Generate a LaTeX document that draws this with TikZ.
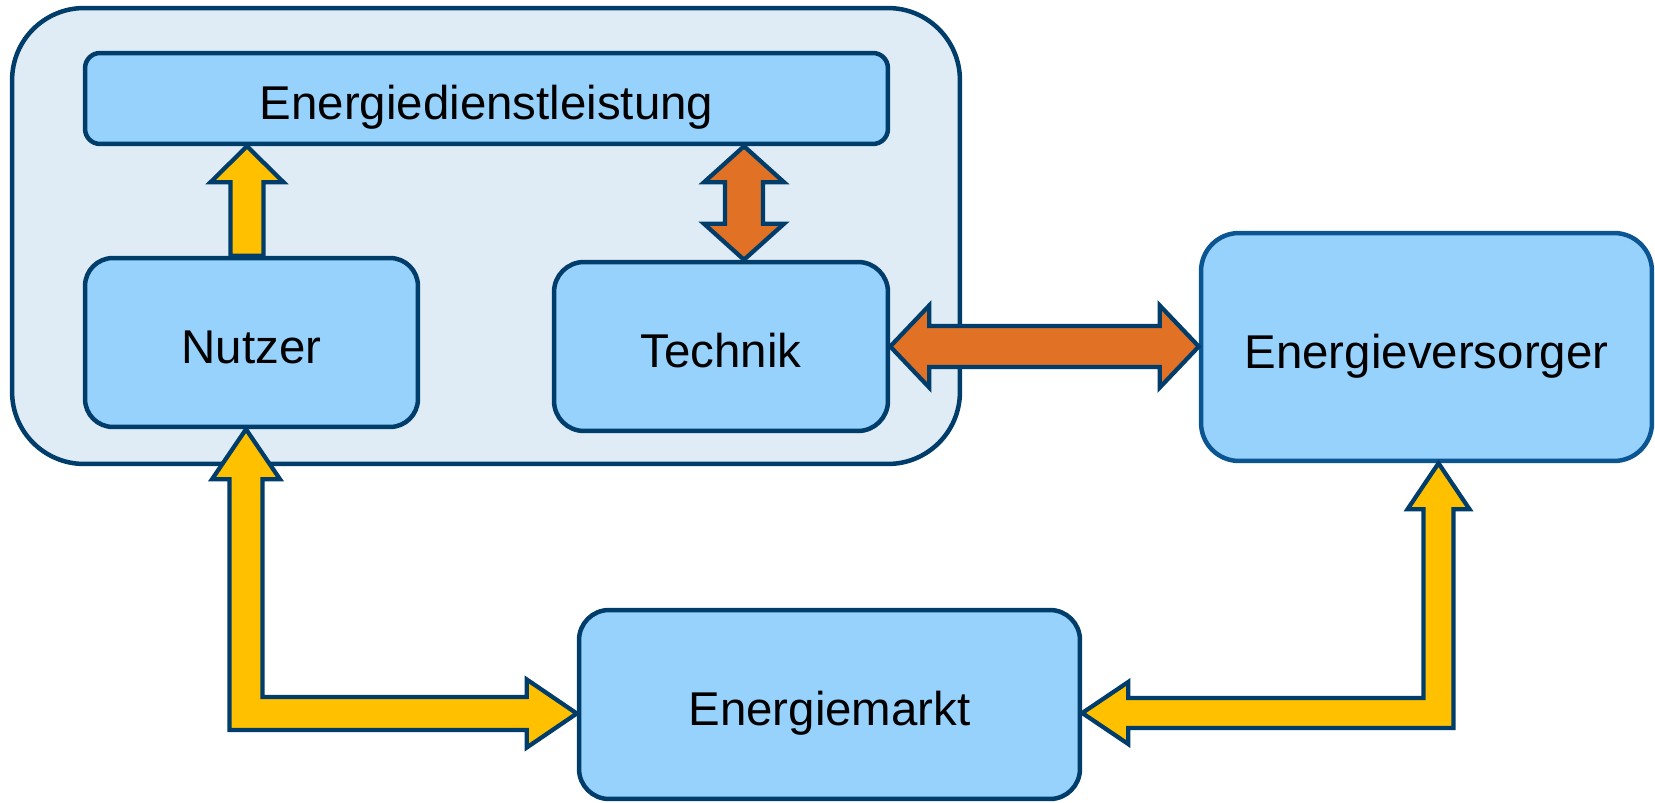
\documentclass[tikz,border=0pt]{standalone}
\usepackage{fontspec}
\setmainfont{Liberation Sans}
\usetikzlibrary{calc}
\definecolor{navy}{HTML}{003D6B}
\definecolor{navylight}{HTML}{0B5593}
\definecolor{boxblue}{HTML}{97D2FD}
\definecolor{paleblue}{HTML}{DFECF5}
\definecolor{amber}{HTML}{FFC000}
\definecolor{rust}{HTML}{E07125}
\tikzstyle{outerbox} = [rectangle, rounded corners=1.44cm, minimum width=18.96cm, minimum height=9.12cm, draw=navy, line width=0.09cm, fill=paleblue, inner sep=0pt]
\tikzstyle{block} = [rectangle, draw=navy, line width=0.09cm, fill=boxblue, inner sep=0pt, text centered, text height=0.85cm, text depth=0pt, font=\fontsize{27}{32}\selectfont]
\tikzstyle{fatyellow} = [draw=navy, line width=0.085cm, line join=miter, fill=amber]
\tikzstyle{fatorange} = [draw=navy, line width=0.085cm, line join=miter, fill=rust]

\begin{document}
\begin{tikzpicture}[x=0.02cm, y=-0.02cm]
\useasboundingbox (0,0) rectangle (1655,803);
\node (haushalt) [outerbox] at (486,236) {};
\node (dienst) [block, rounded corners=0.3cm, minimum width=16.06cm, minimum height=1.82cm] at (486.5,98.5) {Energiedienstleistung};
\node (nutzer) [block, rounded corners=0.56cm, minimum width=6.66cm, minimum height=3.38cm] at (251.5,342.5) {Nutzer};
\node (technik) [block, rounded corners=0.6cm, minimum width=6.68cm, minimum height=3.38cm] at (721,346.5) {Technik};
\node (versorger) [block, draw=navylight, rounded corners=0.76cm, minimum width=9.02cm, minimum height=4.56cm] at (1426.5,347) {Energieversorger};
\node (markt) [block, rounded corners=0.6cm, minimum width=10.02cm, minimum height=3.78cm] at (829.5,704.5) {Energiemarkt};

% Nutzer -> Energiedienstleistung
\coordinate (u1) at ($(nutzer.north)+(-4.5,0)$);
\coordinate (u2) at (u1 |- dienst.south);
\draw[fatyellow] ($(u1)+(-16.5,0)$) -- ($(u2)+(-16.5,36)$) -- ++(-20,0) -- (u2) -- ++(36.5,36) -- ++(-20,0) -- ($(u1)+(16.5,0)$) -- cycle;

% Energiedienstleistung <-> Technik
\coordinate (o1) at ($(technik.north)+(23,0)$);
\coordinate (o2) at (o1 |- dienst.south);
\draw[fatorange] (o2) -- ++(40,36) -- ++(-21,0) -- ($(o1)+(19,-36)$) -- ++(21,0) -- (o1) -- ++(-40,-36) -- ++(21,0) -- ($(o2)+(-19,36)$) -- ++(-21,0) -- cycle;

% Technik <-> Energieversorger
\coordinate (h1) at (technik.east);
\coordinate (h2) at (h1 -| versorger.west);
\draw[fatorange] (h1) -- ++(39,-41) -- ++(0,20.5) -- ($(h2)+(-39,-20.5)$) -- ++(0,-20.5) -- (h2) -- ++(-39,41) -- ++(0,-20.5) -- ($(h1)+(39,20.5)$) -- ++(0,20.5) -- cycle;

% Nutzer <-> Energiemarkt
\coordinate (l1) at ($(nutzer.south)+(-5.5,0)$);
\coordinate (l2) at ($(markt.west)+(0,9)$);
\coordinate (l3) at (l1 |- l2);
\draw[fatyellow] (l1) -- ++(34,50) -- ++(-17.5,0) -- ($(l3)+(16.5,-16.5)$) -- ($(l2)+(-50,-16.5)$) -- ++(0,-17.5) -- (l2) -- ++(-50,34) -- ++(0,-17.5) -- ($(l3)+(-16.5,16.5)$) -- ($(l1)+(-16.5,50)$) -- ++(-17.5,0) -- cycle;

% Energiemarkt <-> Energieversorger
\coordinate (r1) at ($(versorger.south)+(12,0)$);
\coordinate (r2) at ($(markt.east)+(0,8.5)$);
\coordinate (r3) at (r1 |- r2);
\draw[fatyellow] (r1) -- ++(31,46) -- ++(-16,0) -- ($(r3)+(15,15)$) -- ($(r2)+(46,15)$) -- ++(0,16) -- (r2) -- ++(46,-31) -- ++(0,16) -- ($(r3)+(-15,-15)$) -- ($(r1)+(-15,46)$) -- ++(-16,0) -- cycle;

\end{tikzpicture}
\end{document}
